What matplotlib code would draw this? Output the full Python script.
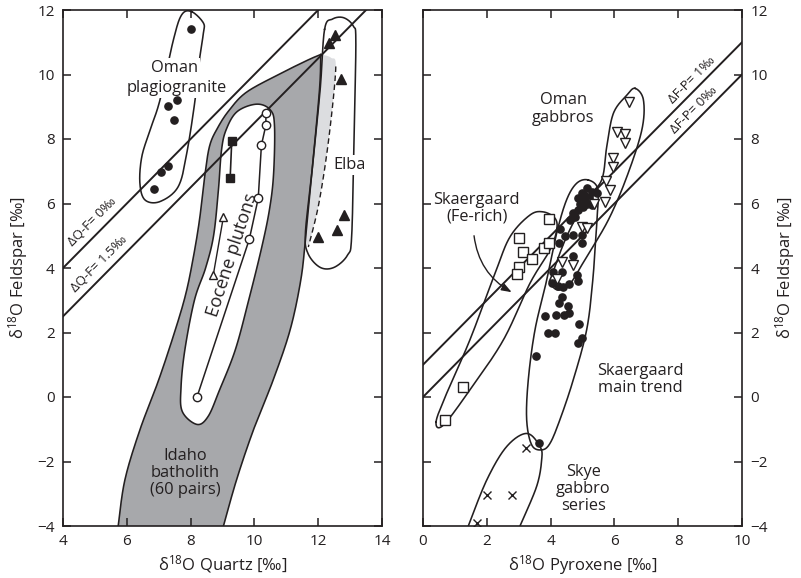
import numpy as np
import matplotlib
matplotlib.use("Agg")
import matplotlib.pyplot as plt

plt.rcParams['font.family'] = ['Open Sans', 'DejaVu Sans']
plt.rcParams['mathtext.default'] = 'regular'
INK = '#231f20'

# ---------------- data: left panel (quartz - feldspar) ----------------
oman_plag_q = [8.0, 7.56, 7.28, 7.48, 7.28, 7.06, 6.84]
oman_plag_f = [11.4, 9.21, 9.02, 8.59, 7.17, 6.98, 6.44]

eocene_q = [8.2, 9.84, 10.12, 10.22, 10.36, 10.36]
eocene_f = [0.0, 4.89, 6.16, 7.81, 8.43, 8.82]

square_q = [9.29, 9.24]
square_f = [7.95, 6.78]

tri_arrow_q = [8.71, 9.03]
tri_arrow_f = [3.78, 5.59]

elba_q = [12.53, 12.35, 12.73, 12.82, 12.6, 11.98]
elba_f = [11.22, 10.99, 9.85, 5.64, 5.18, 4.95]

dQF = [0.0, 1.5]

# envelopes (outline vertices, data units)
oman_env_q = [8.03, 8.4, 8.4, 8.29, 8.14, 7.88, 7.61, 7.04, 6.57, 6.41, 6.47, 6.73, 7.04, 7.46, 7.72]
oman_env_f = [11.95, 11.6, 11.28, 10.55, 9.21, 7.56, 6.52, 6.06, 6.11, 6.63, 7.45, 8.28, 9.21, 11.07, 11.85]

elba_env_q = [12.2, 12.45, 12.8, 13.1, 13.18, 13.12, 13.05, 12.92, 12.5, 12.06, 11.68, 11.6, 11.8, 12.06]
elba_env_f = [11.4, 11.72, 11.76, 11.5, 11.0, 8.0, 5.0, 4.4, 4.02, 4.02, 4.45, 5.1, 6.94, 9.52]

idaho_left_q = [5.73, 5.94, 6.41, 7.0, 7.52, 7.85, 8.08, 8.28, 8.45, 8.6, 8.85, 9.2, 9.75, 10.8, 11.68, 12.08]
idaho_left_f = [-4.0, -2.57, -1.02, 0.53, 2.08, 3.2, 4.3, 5.5, 6.9, 7.8, 8.35, 8.88, 9.45, 10.02, 10.45, 10.62]
idaho_right_q = [12.08, 12.04, 11.8, 11.6, 11.45, 11.12, 10.59, 9.97, 9.44, 9.03]
idaho_right_f = [10.62, 9.52, 6.94, 4.87, 3.6, 2.08, 0.53, -1.02, -2.57, -4.0]
idaho_light_q = [12.08, 12.4, 12.55, 12.33, 12.02, 11.69]
idaho_light_f = [10.62, 10.52, 10.2, 8.0, 6.0, 4.65]

inner_env_q = [8.2, 7.74, 7.7, 7.82, 8.12, 8.47, 8.72, 8.87, 8.97, 9.12, 9.46, 10.07, 10.5,
               10.63, 10.6, 10.47, 10.22, 9.82, 9.4, 8.9, 8.55]
inner_env_f = [-0.85, -0.45, 0.3, 1.46, 3.0, 4.0, 5.0, 6.4, 7.66, 8.3, 8.85, 9.08, 8.9,
               8.4, 6.9, 5.8, 4.6, 3.0, 1.46, 0.2, -0.6]

# ---------------- data: right panel (pyroxene - feldspar) ----------------
fe_rich_p = [3.96, 3.01, 3.15, 3.43, 3.01, 2.94, 3.8, 3.96, 1.26, 0.69]
fe_rich_f = [5.52, 4.92, 4.51, 4.27, 4.04, 3.81, 4.63, 4.77, 0.30, -0.71]

main_p = [5.13, 4.97, 5.29, 5.45, 4.87, 5.08, 5.24, 4.92, 5.13, 5.29, 5.03, 4.87, 4.71, 4.76, 4.61,
          5.05, 5.2, 4.29, 4.45, 4.71, 4.97, 4.27, 4.97, 4.71, 4.08, 4.35, 4.82, 4.87, 4.03, 4.4,
          4.59, 4.22, 4.35, 4.27, 4.53, 4.59, 3.84, 4.17, 4.42, 4.88, 3.92, 4.13, 4.97, 4.87,
          3.54, 3.65]
main_f = [6.47, 6.32, 6.37, 6.32, 6.16, 6.16, 6.08, 6.0, 6.0, 5.95, 5.9, 5.8, 5.71, 5.59, 5.49,
          6.25, 6.2, 5.21, 5.0, 5.02, 5.02, 4.78, 4.78, 4.37, 3.89, 3.89, 3.78, 3.61, 3.52, 3.42,
          3.49, 3.45, 3.11, 2.9, 2.82, 2.6, 2.51, 2.54, 2.54, 2.26, 1.97, 1.97, 1.84, 1.66,
          1.27, -1.42]

oman_gab_p = [6.47, 6.07, 6.33, 6.33, 5.95, 5.95, 5.74, 5.86, 5.72, 5.36, 4.97, 5.13, 4.37, 4.71, 4.19]
oman_gab_f = [9.16, 8.23, 8.15, 7.87, 7.42, 7.14, 6.7, 6.42, 6.05, 5.98, 5.28, 5.23, 4.2, 4.09, 3.65]

skye_p = [3.23, 2.0, 2.78, 1.7]
skye_f = [-1.57, -3.04, -3.04, -3.92]

dFP = [1.0, 0.0]

fe_env_p = [0.41, 0.64, 1.47, 2.52, 3.35, 3.98, 4.19, 4.14, 3.77, 3.35, 2.73, 2.26, 1.47, 0.74]
fe_env_f = [-0.77, -0.87, 0.22, 1.77, 3.52, 4.56, 5.18, 5.54, 5.74, 5.64, 4.97, 3.84, 1.77, 0.11]

main_env_p = [5.18, 5.48, 5.46, 5.42, 5.32, 5.13, 4.71, 4.29, 3.98, 3.72, 3.41, 3.25, 3.3, 3.51,
              3.86, 4.19, 4.5, 4.82]
main_env_f = [6.73, 6.45, 5.6, 5.0, 3.6, 2.08, 0.53, -0.71, -1.44, -1.64, -1.49, -0.71, 0.53, 2.08,
              3.55, 5.08, 6.11, 6.63]

oman_env2_p = [6.65, 6.91, 6.86, 6.39, 5.81, 5.1, 4.6, 4.22, 3.98, 4.03, 4.5, 5.1, 5.6, 5.76, 5.97, 6.39]
oman_env2_f = [9.57, 9.21, 8.28, 6.83, 5.49, 4.3, 3.5, 3.32, 3.55, 3.75, 4.97, 6.1, 6.73, 7.76, 8.8, 9.36]

skye_env_p = [1.42, 2.0, 2.62, 3.25, 3.67, 3.72, 3.56, 3.04]
skye_env_f = [-4.0, -2.57, -1.54, -1.13, -1.54, -1.95, -2.78, -4.0]


# ---------------- helpers ----------------
def catmull(xs, ys, closed=True, n=24):
    P = np.column_stack([xs, ys]).astype(float)
    N = len(P)
    segs = []
    rng = range(N) if closed else range(N - 1)
    for i in rng:
        if closed:
            p0, p1, p2, p3 = P[i - 1], P[i], P[(i + 1) % N], P[(i + 2) % N]
        else:
            p0 = P[max(i - 1, 0)]
            p1 = P[i]
            p2 = P[i + 1]
            p3 = P[min(i + 2, N - 1)]
        t = np.linspace(0, 1, n, endpoint=False)[:, None]
        segs.append(0.5 * (2 * p1 + (-p0 + p2) * t + (2 * p0 - 5 * p1 + 4 * p2 - p3) * t ** 2
                           + (-p0 + 3 * p1 - 3 * p2 + p3) * t ** 3))
    out = np.vstack(segs)
    if closed:
        out = np.vstack([out, out[:1]])
    else:
        out = np.vstack([out, P[-1:]])
    return out[:, 0], out[:, 1]


fig = plt.figure(figsize=(8.01, 5.78), dpi=100)
W, H = 801, 578
ax1 = fig.add_axes([63 / W, 1 - 526 / H, 319 / W, 516 / H])
ax2 = fig.add_axes([423 / W, 1 - 526 / H, 319 / W, 516 / H])

for ax in (ax1, ax2):
    ax.set_ylim(-4, 12)
    ax.set_yticks(range(-4, 13, 2))
    for s in ax.spines.values():
        s.set_linewidth(1.2)
        s.set_color(INK)
    ax.tick_params(direction='in', length=6, width=1.1, top=True, right=True, left=True,
                   bottom=True, labelsize=11, colors=INK, pad=6)

ax1.set_xlim(4, 14)
ax1.set_xticks(range(4, 15, 2))
ax2.set_xlim(0, 10)
ax2.set_xticks(range(0, 11, 2))
ax2.tick_params(labelleft=False, labelright=True)
ax2.yaxis.set_label_position('right')

lab_kw = dict(fontsize=12, color=INK)
ax1.set_xlabel('δ$^{18}$O Quartz [‰]', labelpad=3, **lab_kw)
ax1.set_ylabel('δ$^{18}$O Feldspar [‰]', labelpad=5, **lab_kw)
ax2.set_xlabel('δ$^{18}$O Pyroxene [‰]', labelpad=3, **lab_kw)
ax2.set_ylabel('δ$^{18}$O Feldspar [‰]', labelpad=4, **lab_kw)

DARK = '#a7a8ab'
LIGHT = '#dcdde0'
LW = 1.15

# ---- left panel ----
lx, ly = catmull(idaho_left_q, idaho_left_f, closed=False)
rx, ry = catmull(idaho_right_q, idaho_right_f, closed=False)
ax1.fill(np.concatenate([lx, rx]), np.concatenate([ly, ry]), color=DARK, lw=0, zorder=1)
ax1.plot(lx, ly, color=INK, lw=LW, zorder=2)
ax1.plot(rx, ry, color=INK, lw=LW, zorder=2)

gx, gy = catmull(idaho_light_q, idaho_light_f, closed=False)
mask = np.array(idaho_right_f) >= 4.6
bx, by = catmull(np.array(idaho_right_q)[mask][::-1], np.array(idaho_right_f)[mask][::-1], closed=False)
ax1.fill(np.concatenate([gx, bx]), np.concatenate([gy, by]), color=LIGHT, lw=0, zorder=1.5)
dm = gy <= 10.25
ax1.plot(gx[dm], gy[dm], color=INK, lw=1.0, ls=(0, (4, 2.5)), zorder=2)

ix, iy = catmull(inner_env_q, inner_env_f)
ax1.fill(ix, iy, facecolor='white', edgecolor=INK, lw=LW, zorder=2.2)

xx = np.array([4, 14])
for d in dQF:
    ax1.plot(xx, xx - d, color=INK, lw=1.4, zorder=3)

ox, oy = catmull(oman_env_q, oman_env_f)
ax1.plot(ox, oy, color=INK, lw=LW, zorder=3)
ex, ey = catmull(elba_env_q, elba_env_f)
ax1.plot(ex, ey, color=INK, lw=LW, zorder=3)

ax1.plot(oman_plag_q, oman_plag_f, 'o', ms=5.2, color=INK, zorder=5)
ax1.plot(eocene_q, eocene_f, '-', color=INK, lw=1.1, zorder=4)
ax1.plot(eocene_q, eocene_f, 'o', ms=6, mfc='white', mec=INK, mew=1.0, zorder=5)
ax1.plot(square_q, square_f, '-', color=INK, lw=1.2, zorder=4)
ax1.plot(square_q, square_f, 's', ms=6, color=INK, zorder=5)
ax1.plot(tri_arrow_q, tri_arrow_f, '-', color=INK, lw=1.0, zorder=4)
ax1.plot(tri_arrow_q, tri_arrow_f, '^', ms=6, mfc='white', mec=INK, mew=1.0, zorder=5)
ax1.plot(elba_q, elba_f, '^', ms=6.5, color=INK, zorder=5)

tk = dict(color=INK, fontsize=11.8, ha='center', va='center', linespacing=1.1)
wb = dict(boxstyle='square,pad=0.1', fc='white', ec='none')
ax1.text(7.5, 10.2, 'Oman', zorder=4, bbox=wb, **tk)
ax1.text(7.56, 9.58, 'plagiogranite', zorder=4, bbox=wb, **tk)
ax1.text(12.97, 7.19, 'Elba', zorder=4, bbox=wb, **tk)
ax1.text(7.82, -2.35, 'Idaho\nbatholith\n(60 pairs)', zorder=4, **tk)
tk2 = dict(tk)
tk2['fontsize'] = 13
ax1.text(9.3, 4.4, 'Eocene plutons', rotation=72, zorder=4, **tk2)

ang = np.degrees(np.arctan2(516 / 16, 319 / 10))
dk = dict(color=INK, fontsize=9.5, ha='center', va='center', rotation=ang, rotation_mode='anchor')
ax1.text(4.93, 5.42, 'ΔQ-F= 0‰', zorder=4, **dk)
ax1.text(5.13, 4.12, 'ΔQ-F= 1.5‰', zorder=4, **dk)

# ---- right panel ----
xx2 = np.array([0, 10])
for d in dFP:
    ax2.plot(xx2, xx2 + d, color=INK, lw=1.4, zorder=3)

for px_, py_ in [(fe_env_p, fe_env_f), (main_env_p, main_env_f), (oman_env2_p, oman_env2_f)]:
    cx, cy = catmull(px_, py_)
    ax2.plot(cx, cy, color=INK, lw=LW, zorder=3)
sx, sy = catmull(skye_env_p, skye_env_f, closed=False)
ax2.plot(sx, sy, color=INK, lw=LW, zorder=3)

ax2.plot(main_p, main_f, 'o', ms=5.2, color=INK, zorder=5)
ax2.plot(fe_rich_p, fe_rich_f, 's', ms=6.5, mfc='white', mec=INK, mew=1.0, zorder=5)
ax2.plot(oman_gab_p, oman_gab_f, 'v', ms=7, mfc='white', mec=INK, mew=1.0, zorder=6)
ax2.plot(skye_p, skye_f, 'x', ms=5.5, color=INK, mew=1.0, zorder=5)

ax2.text(1.68, 5.85, 'Skaergaard\n(Fe-rich)', **tk)
ax2.text(4.4, 8.93, 'Oman\ngabbros', **tk)
ax2.text(6.8, 0.55, 'Skaergaard\nmain trend', **tk)
ax2.text(5.03, -2.86, 'Skye\ngabbro\nseries', **tk)
ax2.annotate('', xy=(2.78, 3.25), xytext=(1.6, 5.0),
             arrowprops=dict(arrowstyle='-|>,head_length=0.6,head_width=0.22',
                             connectionstyle='arc3,rad=0.25', lw=1.0, color=INK,
                             shrinkA=0, shrinkB=0), zorder=4)
ax2.text(8.42, 9.82, 'ΔF-P= 1‰', zorder=4, **dk)
ax2.text(8.5, 8.9, 'ΔF-P= 0‰', zorder=4, **dk)

fig.savefig('out.png', dpi=100)
